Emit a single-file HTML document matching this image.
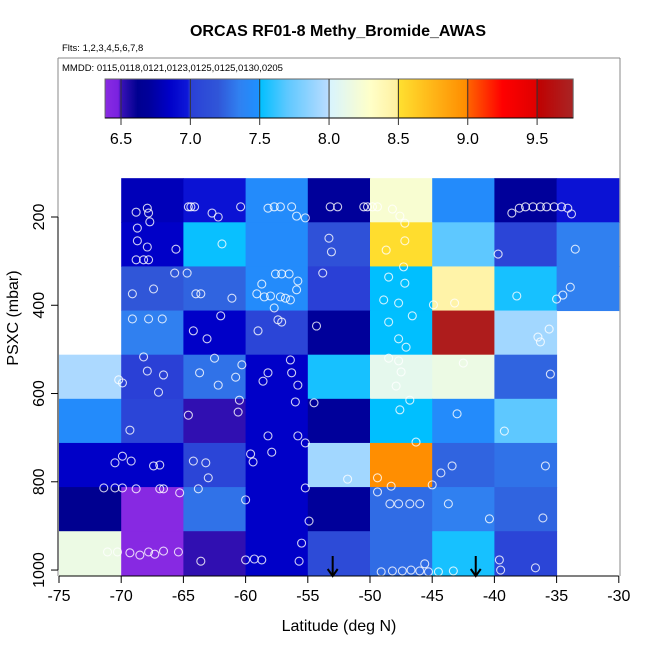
<!DOCTYPE html>
<html><head><meta charset="utf-8"><style>
body{margin:0;background:#fff}
svg{display:block;font-family:"Liberation Sans",sans-serif}
</style></head><body>
<svg id="chart" width="650" height="650" viewBox="0 0 650 650">
<defs><linearGradient id="cbgrad" x1="0" x2="1" y1="0" y2="0"></linearGradient></defs>
<text x="338" y="36" text-anchor="middle" font-size="16" font-weight="bold">ORCAS RF01-8 Methy_Bromide_AWAS</text>
<text x="62" y="51" font-size="9.5">Flts: 1,2,3,4,5,6,7,8</text>
<g id="cells"></g>
<g id="pts"></g>
<line x1="58" y1="58" x2="620" y2="58" stroke="#888"/>
<line x1="620" y1="58" x2="620" y2="576" stroke="#888"/>
<line x1="58" y1="58" x2="58" y2="576" stroke="#888"/>
<text x="62" y="71" font-size="9.5">MMDD: 0115,0118,0121,0123,0125,0125,0130,0205</text>
<g id="cbar"></g>
<g id="axes"></g>
<text x="0" y="0" transform="translate(18,318) rotate(-90)" text-anchor="middle" font-size="16">PSXC (mbar)</text>
<text x="339" y="631" text-anchor="middle" font-size="16">Latitude (deg N)</text>
</svg>
<script>
const latBins=[-75,-70,-65,-60,-55,-50,-45,-40,-35];
const presBins=[112,212,312,412,512,612,712,812,912];
// cell values (ppt), null = empty; rows = pressure bins, cols = latitude bins
const cellValues=[
[null,6.8,6.95,7.45,6.7,8.25,7.45,6.7,6.95],
[null,6.85,7.52,7.45,7.15,8.52,7.7,7.05,7.35],
[null,7.2,7.25,7.45,7.0,7.5,8.45,7.55,7.35],
[null,7.35,6.85,7.05,6.7,7.5,9.7,7.92,null],
[7.95,7.0,7.3,6.85,7.55,8.1,8.15,7.25,null],
[7.45,7.05,6.52,6.85,6.7,7.5,7.45,7.7,null],
[6.85,6.85,7.05,6.85,7.92,8.98,7.25,7.3,null],
[6.62,6.4,7.3,6.85,6.7,7.28,7.35,7.25,null],
[8.15,6.4,6.52,6.85,7.1,7.28,7.55,7.05,null]];
const cbTicks=[6.5,7.0,7.5,8.0,8.5,9.0,9.5];
const xTicks=[-75,-70,-65,-60,-55,-50,-45,-40,-35,-30];
const yTicks=[200,400,600,800,1000];
const arrowLats=[-53,-41.5];
const ptLat=[-68.8,-68.7,-67.9,-67.8,-67.7,-64.6,-64.4,-64.1,-62.7,-62.2,-60.4,-58.2,-57.7,-57.2,-56.3,-55.9,-55.2,-53.2,-52.6,-50.5,-50.2,-49.8,-49.4,-48.2,-47.6,-47.2,-38.6,-38.0,-37.5,-36.9,-36.3,-35.8,-35.2,-34.6,-34.1,-33.8,
-68.7,-67.9,-68.8,-68.2,-67.8,-65.6,-61.9,-53.3,-53.1,-47.2,-48.7,-39.7,-33.5,
-69.1,-67.4,-65.7,-64.7,-64.0,-63.6,-61.1,-58.7,-57.6,-57.1,-56.5,-55.8,-55.9,-56.4,-59.1,-58.5,-58.0,-57.2,-56.8,-53.8,-48.5,-47.3,-47.2,-48.9,-47.7,-44.9,-43.2,-38.2,-35.0,-34.5,-33.9,
-69.1,-67.8,-66.7,-64.2,-63.1,-62.0,-57.7,-57.4,-59.0,-57.1,-54.3,-48.5,-47.7,-47.1,-46.6,-36.5,-35.6,-36.3,
-70.2,-69.9,-68.2,-67.9,-66.6,-67.0,-63.7,-62.2,-62.5,-60.8,-60.3,-58.6,-58.2,-56.4,-56.3,-55.8,-48.5,-47.7,-47.5,-47.9,-42.5,-35.5,
-64.6,-60.5,-60.6,-56.0,-54.5,-47.6,-46.8,-43.0,-39.2,
-70.5,-69.9,-69.3,-69.2,-67.4,-66.9,-64.2,-63.2,-63.0,-59.6,-59.4,-58.2,-57.9,-55.8,-55.2,-51.8,-49.4,-48.3,-46.3,-44.3,-43.4,-35.9,
-71.4,-70.5,-69.9,-68.8,-66.9,-66.6,-65.3,-63.8,-60.0,-55.2,-54.9,-49.4,-48.4,-47.7,-46.8,-46.0,-45.0,-43.7,-40.4,-36.1,
-71.1,-70.3,-69.3,-68.5,-67.8,-67.3,-66.6,-65.4,-63.6,-60.0,-59.3,-58.7,-55.5,-55.7,-49.1,-48.2,-47.4,-46.7,-46.0,-45.3,-45.6,-44.5,-43.3,-39.6,-39.5,-36.7];
const ptPres=[189,225,180,191,211,177,177,177,191,200,177,180,177,177,177,198,202,177,177,177,177,177,177,182,198,214,191,180,177,177,177,177,177,177,180,193,
254,268,297,297,297,273,261,248,279,254,275,284,273,
374,363,327,327,374,374,384,352,329,329,329,345,365,388,374,381,379,381,384,327,336,313,350,388,395,399,395,379,386,377,359,
431,431,431,458,476,424,406,433,458,438,447,438,476,495,424,472,454,483,
569,576,517,549,558,597,553,581,520,563,535,572,553,524,553,581,520,526,551,583,531,556,
649,615,642,619,621,637,615,646,685,
757,742,683,753,764,762,753,757,791,737,755,696,733,696,712,794,791,810,710,780,764,764,
814,814,814,816,816,816,825,816,841,814,889,823,850,850,850,850,807,850,884,882,
959,959,961,966,959,964,957,959,980,977,975,977,939,980,1004,1002,1002,1000,1002,1004,986,1004,1002,977,1000,995];

const NS='http://www.w3.org/2000/svg';
function X(lat){return 59+(lat+75)*12.44;}
function Y(p){return 217+(p-200)*0.4413;}
function CB(v){return 121+(v-6.5)*138.7;}
const stops=[[6.38,'#8a2be2'],[6.48,'#7a22e0'],[6.5,'#3a12b8'],[6.62,'#000090'],[6.7,'#00009a'],[6.85,'#0000c8'],[6.98,'#0e18d8'],[7.0,'#2a40d6'],[7.2,'#3056d8'],[7.35,'#3080f0'],[7.49,'#1e90ff'],[7.5,'#00bfff'],[7.7,'#5ec8ff'],[7.99,'#b8dcff'],[8.0,'#d8f4ff'],[8.3,'#ffffc8'],[8.49,'#fff0a0'],[8.5,'#ffe030'],[8.99,'#ff8c00'],[9.0,'#ff6400'],[9.25,'#ff0000'],[9.49,'#e00000'],[9.5,'#c00000'],[9.8,'#a52a2a']];
function hex(c){return [1,3,5].map(i=>parseInt(c.substr(i,2),16));}
function cmap(v){
  if(v<=stops[0][0])return stops[0][1];
  for(let i=1;i<stops.length;i++){if(v<=stops[i][0]){const a=stops[i-1],b=stops[i];const t=(v-a[0])/(b[0]-a[0]);const A=hex(a[1]),B=hex(b[1]);return 'rgb('+A.map((x,k)=>Math.round(x+(B[k]-x)*t)).join(',')+')';}}
  return stops[stops.length-1][1];
}
function mk(tag,attrs,parent){const e=document.createElementNS(NS,tag);for(const k in attrs)e.setAttribute(k,attrs[k]);parent.appendChild(e);return e;}
const cells=document.getElementById('cells');
cellValues.forEach((row,r)=>row.forEach((v,c)=>{
  if(v===null)return;
  const x0=X(latBins[c]),x1=X(latBins[c]+5),y0=Y(presBins[r]),y1=Y(presBins[r]+100);
  const e=mk('rect',{x:x0,y:y0,width:x1-x0+0.5,height:y1-y0+0.5,fill:cmap(v)},cells);
  
  
}));
const pts=document.getElementById('pts');
ptLat.forEach((lat,i)=>{
  const e=mk('circle',{cx:X(lat),cy:Y(ptPres[i]),r:4,fill:'none',stroke:'#fff','stroke-opacity':0.8,'stroke-width':1.1},pts);
  
  
});
// colorbar
const cb=document.getElementById('cbar');
const v0=6.385,v1=9.76;
const grad=document.getElementById('cbgrad');
for(let v=v0;v<=v1+1e-9;v+=0.005){
  mk('stop',{offset:((v-v0)/(v1-v0)).toFixed(4),'stop-color':cmap(v)},grad);
}
const cbRect=mk('rect',{x:CB(v0),y:79,width:CB(v1)-CB(v0),height:39,fill:'url(#cbgrad)',stroke:'#666'},cb);


mk('line',{x1:CB(v0),y1:118,x2:CB(v1),y2:118,stroke:'#000'},cb);
cbTicks.forEach(v=>{
  const l=mk('line',{x1:CB(v),y1:79,x2:CB(v),y2:125,stroke:'#333'},cb);
  
  
  const t=mk('text',{x:CB(v),y:144,'text-anchor':'middle','font-size':16},cb);
  t.textContent=v.toFixed(1);
  
  
});
// axes
const ax=document.getElementById('axes');
mk('line',{x1:X(-75),y1:576,x2:X(-30),y2:576,stroke:'#000'},ax);
xTicks.forEach(v=>{
  mk('line',{x1:X(v),y1:576,x2:X(v),y2:583,stroke:'#000'},ax);
  const t=mk('text',{x:X(v),y:601,'text-anchor':'middle','font-size':16},ax);
  t.textContent=v;
  
  
});
mk('line',{x1:58,y1:Y(200),x2:58,y2:Y(1000),stroke:'#000'},ax);
yTicks.forEach(v=>{
  mk('line',{x1:51,y1:Y(v),x2:58,y2:Y(v),stroke:'#000'},ax);
  const t=mk('text',{x:0,y:0,transform:'translate(44,'+Y(v)+') rotate(-90)','text-anchor':'middle','font-size':16},ax);
  t.textContent=v;
  
  
});
arrowLats.forEach(lat=>{
  const x=X(lat);
  const l=mk('line',{x1:x,y1:556,x2:x,y2:576,stroke:'#000','stroke-width':2},ax);
  
  
  mk('polyline',{points:(x-5)+',569 '+x+',576 '+(x+5)+',569',fill:'none',stroke:'#000','stroke-width':2},ax);
});
</script>
</body></html>
